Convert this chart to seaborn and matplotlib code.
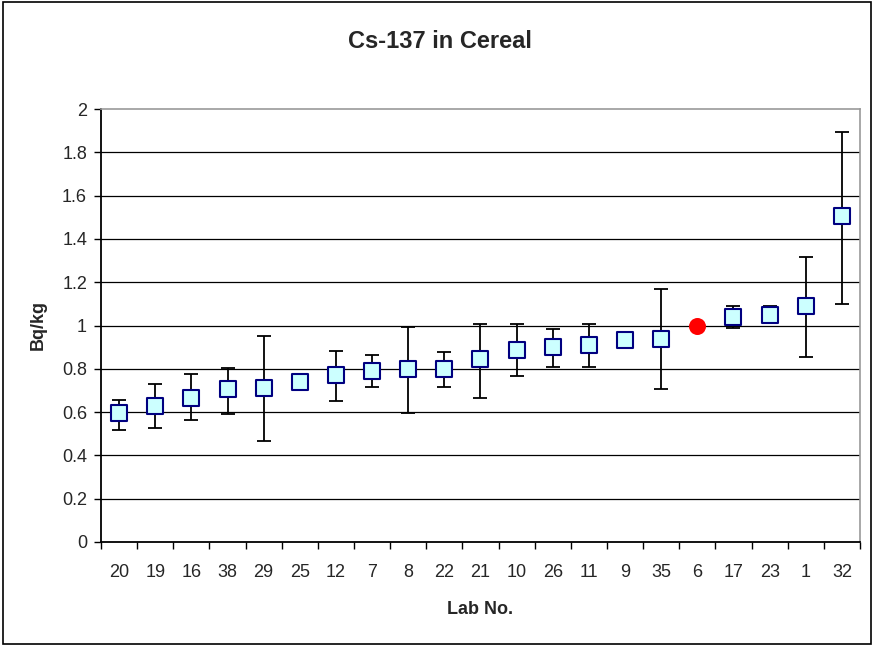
import numpy as np
import pandas as pd
import matplotlib
matplotlib.use("Agg")
import matplotlib.pyplot as plt
import seaborn as sns
from matplotlib.patches import Rectangle

labs = ["20", "19", "16", "38", "29", "25", "12", "7", "8", "22", "21",
        "10", "26", "11", "9", "35", "6", "17", "23", "1", "32"]
values = [0.595, 0.63, 0.667, 0.705, 0.711, 0.741, 0.77, 0.791, 0.799, 0.799, 0.844,
          0.887, 0.902, 0.91, 0.932, 0.939, 1.0, 1.041, 1.049, 1.092, 1.504]
err_low = [0.517, 0.525, 0.562, 0.591, 0.466, 0.705, 0.65, 0.714, 0.597, 0.714, 0.664,
           0.767, 0.81, 0.81, np.nan, 0.708, np.nan, 0.987, 1.01, 0.855, 1.098]
err_high = [0.656, 0.731, 0.775, 0.804, 0.951, 0.745, 0.884, 0.862, 0.995, 0.876, 1.007,
            1.007, 0.985, 1.007, np.nan, 1.169, np.nan, 1.092, 1.091, 1.318, 1.895]
reference_lab = "6"
yticks = [0, 0.2, 0.4, 0.6, 0.8, 1, 1.2, 1.4, 1.6, 1.8, 2]
ytick_labels = ["0", "0.2", "0.4", "0.6", "0.8", "1", "1.2", "1.4", "1.6", "1.8", "2"]

sns.set_theme(style="white")
plt.rcParams['font.family'] = ['Liberation Sans', 'DejaVu Sans']

df = pd.DataFrame({"lab": labs, "value": values, "lo": err_low, "hi": err_high})
df["pos"] = np.arange(len(df))
df["is_ref"] = df["lab"] == reference_lab

fig = plt.figure(figsize=(8.74, 6.46), dpi=100)
ax = fig.add_axes([101/874, 1-542/646, (860-101)/874, (542-109)/646])

# grid lines
for yv in yticks[1:-1]:
    ax.axhline(yv, color="black", lw=0.9, zorder=0)

# error bars
eb = df.dropna(subset=["lo", "hi"])
ax.errorbar(eb["pos"], eb["value"],
            yerr=[eb["value"] - eb["lo"], eb["hi"] - eb["value"]],
            fmt="none", ecolor="black", elinewidth=1.3, capsize=5, capthick=1.3, zorder=2)

lab_df = df[~df["is_ref"]]
ref_df = df[df["is_ref"]]
sns.scatterplot(data=lab_df, x="pos", y="value", marker="s", s=130,
                color="#CCFFFF", edgecolor="#000080", linewidth=1.5, ax=ax, zorder=3)
sns.scatterplot(data=ref_df, x="pos", y="value", marker="o", s=150,
                color="#FF0000", edgecolor="#FF0000", linewidth=0, ax=ax, zorder=3)

ax.set_xlim(-0.5, len(df) - 0.5)
ax.set_ylim(0, 2)
ax.set_yticks(yticks)
ax.set_yticklabels(ytick_labels, fontsize=13)
ax.set_xticks(df["pos"])
ax.set_xticklabels(labs, fontsize=13)
ax.set_xticks(np.arange(-0.5, len(df), 1), minor=True)
ax.tick_params(axis="x", which="major", length=0, pad=16)
ax.tick_params(axis="x", which="minor", length=5, width=1, direction="out", color="black", bottom=True)
ax.tick_params(axis="y", which="major", length=5, width=1, direction="out", color="black", left=True, pad=5)

for side in ["top", "right"]:
    ax.spines[side].set_color("#999999")
    ax.spines[side].set_linewidth(1.2)
for side in ["left", "bottom"]:
    ax.spines[side].set_color("black")
    ax.spines[side].set_linewidth(1.3)

ax.set_xlabel("Lab No.", fontsize=13, fontweight="bold")
ax.set_ylabel("Bq/kg", fontsize=13, fontweight="bold")
ax.xaxis.set_label_coords(0.5, -(610-542)/433, transform=ax.transAxes)
ax.yaxis.set_label_coords(-(101-38)/759, 0.5, transform=ax.transAxes)
ax.xaxis.label.set_va("center")
ax.yaxis.label.set_va("center")
fig.text(440/874, 1-41/646, "Cs-137 in Cereal", ha="center", va="center",
         fontsize=17, fontweight="bold")

fig.patches.append(Rectangle((0.003, 0.003), 0.994, 0.994, transform=fig.transFigure,
                             fill=False, edgecolor="black", lw=1.2))

fig.savefig("out.png", dpi=100)
